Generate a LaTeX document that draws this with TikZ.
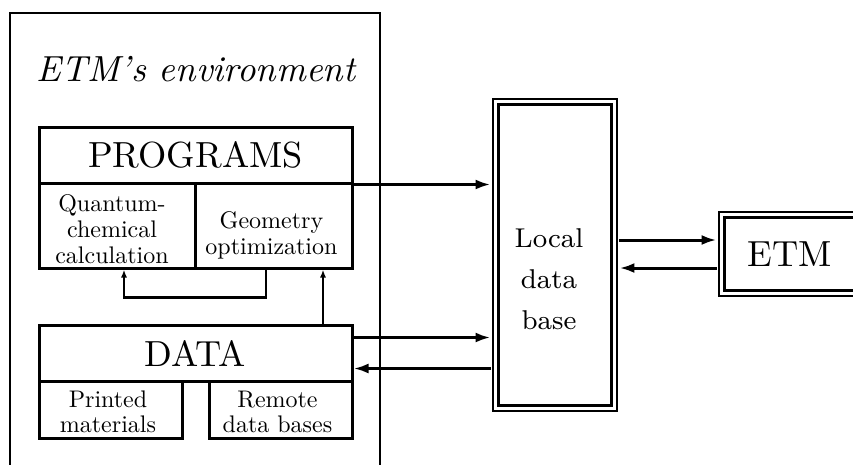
\documentclass[tikz,border=0pt]{standalone}
\usetikzlibrary{arrows.meta}
% Latin Modern design sizes, loaded at fixed magnified sizes
\font\bigrm="[lmroman10-regular]:mapping=tex-text" at 36.3pt
\font\bigit="[lmroman10-italic]:mapping=tex-text" at 36.3pt
\font\midrm="[lmroman8-regular]:mapping=tex-text" at 27.2pt
\font\smallrm="[lmroman10-regular]:mapping=tex-text" at 24pt
\begin{document}
\begin{tikzpicture}[x=1pt,y=-1pt,
  box/.style={draw, rectangle, line width=3pt, inner sep=0pt},
  dbox/.style={draw, rectangle, double, double distance=2.6pt, line width=2.6pt, inner sep=0pt},
  small/.style={font={\smallrm\baselineskip=26pt}, align=center, inner sep=0pt},
  arr/.style={line width=3pt, -{Latex[length=15pt,width=10pt]}},
  fb/.style={line width=2.4pt, -{Latex[length=8pt,width=6pt]}}]
\useasboundingbox (0,0) rectangle (853,464);

% environment frame (runs off the bottom edge)
\node[box, line width=2.2pt, minimum width=370pt, minimum height=507pt] (env) at (195,266.5) {};
\node[font=\bigit] (envtitle) at (196,69.5) {ETM’s environment};

% programs block
\node[box, minimum width=313pt, minimum height=56pt, font=\bigrm] (prog) at (195.5,155) {PROGRAMS};
\node[box, minimum width=156pt, minimum height=85pt] (qc) at (117,225.5) {};
\node[box, minimum width=157pt, minimum height=85pt] (geo) at (273.5,225.5) {};
\node[small] (qctext) at ([xshift=-5pt,yshift=-3.3pt]qc.center) {Quantum-\\chemical\\calculation};
\node[small] (geotext) at ([xshift=-2pt,yshift=-9.5pt]geo.center) {Geometry\\optimization};

% data block
\node[box, minimum width=313pt, minimum height=56pt, font=\bigrm] (data) at (195.5,353) {DATA};
\node[box, minimum width=143pt, minimum height=57pt] (printed) at (110.5,409.5) {};
\node[box, minimum width=143pt, minimum height=57pt] (remote) at (280.5,409.5) {};
\node[small, font={\smallrm\baselineskip=25pt}] (printedtext) at ([xshift=-2.5pt,yshift=-2.5pt]printed.center) {Printed\\materials};
\node[small, font={\smallrm\baselineskip=25pt}] (remotetext) at ([xshift=-3pt,yshift=-2.5pt]remote.center) {Remote\\data bases};

% local data base and ETM
\node[dbox, minimum width=118.5pt, minimum height=306.5pt] (ldb) at (555,255) {};
\node[font={\midrm\baselineskip=41pt}, align=center, inner sep=0pt] (ldbtext) at (549,279.5) {Local\\data\\base};
\node[dbox, minimum width=136.5pt, minimum height=78.5pt, font=\bigrm] (etm) at (790,254) {ETM};

% connector end points
\coordinate (dout) at ([yshift=-14pt]data.north east);
\coordinate (din) at ([yshift=14pt]data.south east);
\coordinate (eout) at ([yshift=14pt]etm.west);
\coordinate (ein) at ([yshift=-14pt]etm.west);

% connectors
\draw[arr, shorten >=3.9pt] (prog.south east) -- (prog.south east -| ldb.west);
\draw[arr, shorten >=3.9pt] (dout) -- (dout -| ldb.west);
\draw[arr, shorten <=3.9pt] (din -| ldb.west) -- (din);
\draw[arr, shorten <=3.9pt, shorten >=3.9pt] (eout -| ldb.east) -- (eout);
\draw[arr, shorten <=3.9pt, shorten >=3.9pt] (ein) -- (ein -| ldb.east);
\draw[fb] ([xshift=-7.5pt]geo.south) -- ++(0,28) -| ([xshift=7pt]qc.south);
\draw[fb, line width=1.8pt] ([xshift=127.5pt]data.north) -- ([xshift=49.5pt]geo.south);
\end{tikzpicture}
\end{document}
